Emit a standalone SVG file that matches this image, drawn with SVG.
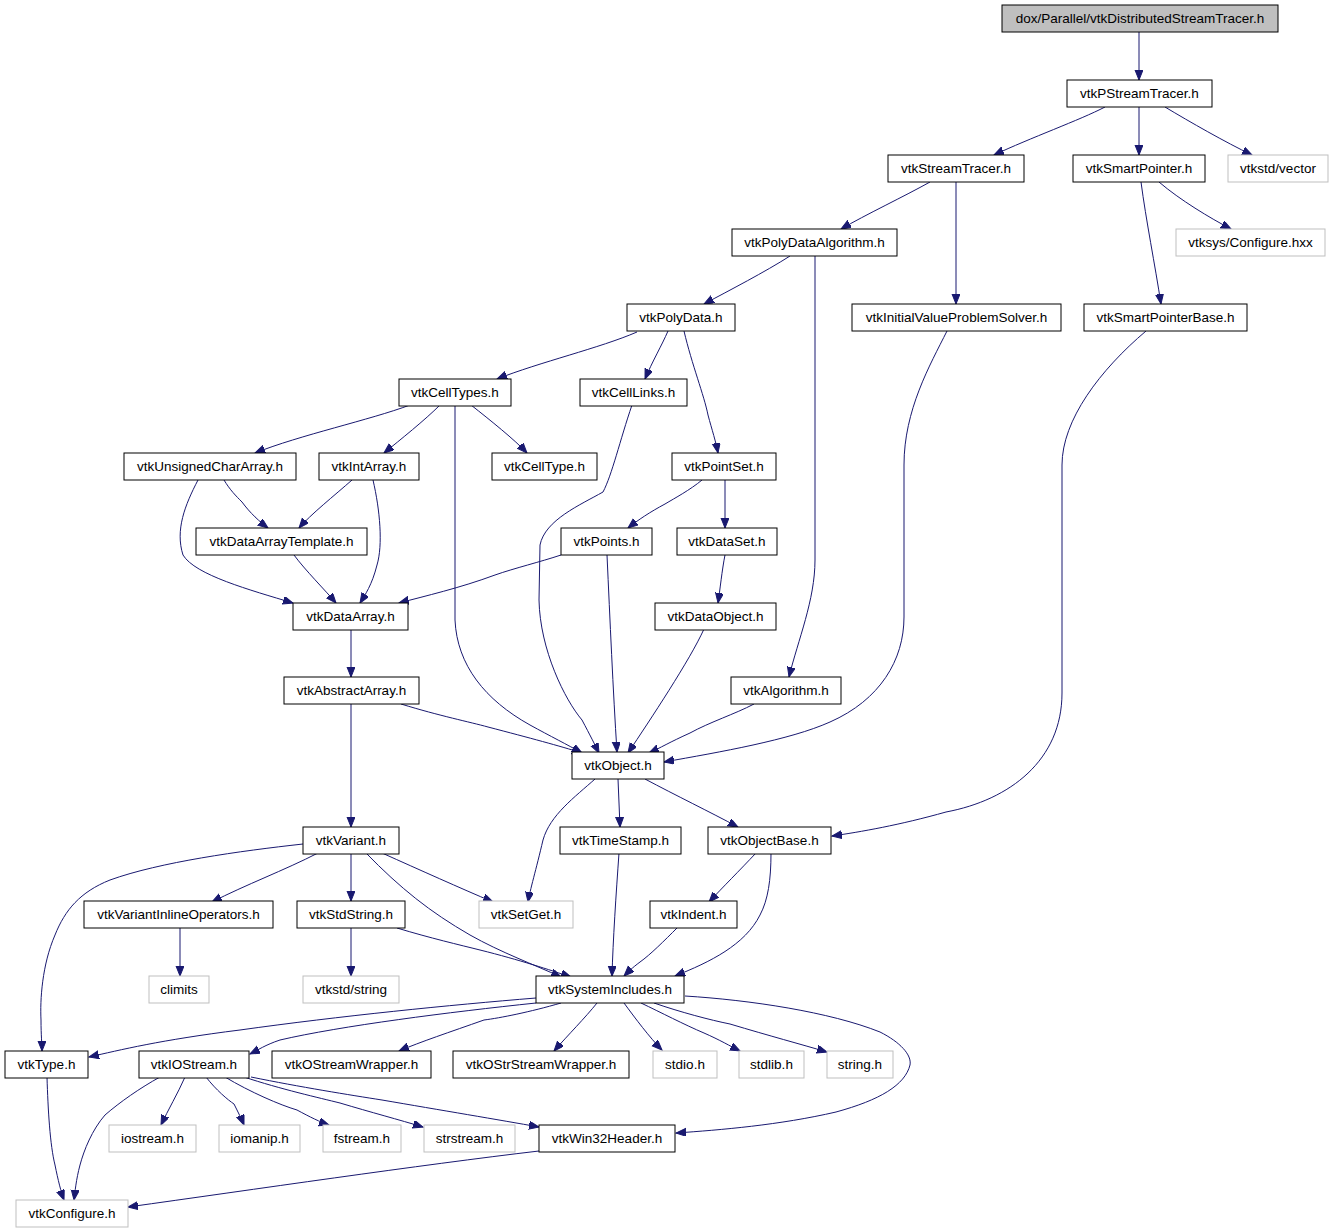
<svg xmlns="http://www.w3.org/2000/svg" width="1332" height="1232" viewBox="0 0 1332 1232">
<style>
.n rect{fill:#fff;stroke:#000;stroke-width:1}
.g rect{fill:#fff;stroke:#bfbfbf;stroke-width:1}
.root rect{fill:#bfbfbf;stroke:#000;stroke-width:1}
text{font-family:"Liberation Sans",Arial,sans-serif;font-size:13.5px;fill:#000;text-anchor:middle}
#edges path{fill:none;stroke:#191970;stroke-width:1;marker-end:url(#arr)}
</style>
<defs>
<marker id="arr" markerUnits="userSpaceOnUse" markerWidth="11" markerHeight="9" refX="10" refY="4" orient="auto">
<path d="M0,0 L10,4 L0,8 z" fill="#191970" stroke="#191970"/>
</marker>
</defs>
<rect width="1332" height="1232" fill="#fff"/>
<g id="edges">
<path d="M1139,32 L1139,80"/>
<path d="M1105,107 C1080,120 1030,138 994,155"/>
<path d="M1139,107 L1139,155"/>
<path d="M1165,107 C1190,122 1225,142 1252,155"/>
<path d="M930,182 C905,196 865,215 841,229"/>
<path d="M956,182 L956,304"/>
<path d="M1159,182 C1180,200 1210,218 1231,229"/>
<path d="M1141,182 C1146,220 1155,265 1161,304"/>
<path d="M790,256 C765,272 730,290 704,304"/>
<path d="M815,256 L815,560 C815,600 798,640 789,677"/>
<path d="M947,331 C930,365 904,410 904,465 L904,617 C904,660 880,700 830,722 C790,740 720,752 664,762"/>
<path d="M1146,331 C1100,370 1062,420 1062,465 L1062,693 C1062,760 1010,800 946,812 C900,825 860,832 832,836"/>
<path d="M637,332 C600,348 540,362 497,379"/>
<path d="M668,331 C662,345 652,362 645,379"/>
<path d="M684,331 C692,365 704,395 708,415 C712,430 716,442 718,453"/>
<path d="M410,405 C370,420 300,435 255,453"/>
<path d="M440,405 C425,420 400,440 384,453"/>
<path d="M471,405 C490,420 515,440 527,453"/>
<path d="M455,405 L455,620 C457,665 485,700 530,725 C550,736 568,745 582,753"/>
<path d="M632,405 C620,440 612,475 603,492 C580,505 545,520 540,545 L539,600 C540,650 565,700 582,720 C590,735 595,745 599,753"/>
<path d="M702,480 C690,490 675,498 665,504 C650,512 638,520 628,528"/>
<path d="M725,480 L725,528"/>
<path d="M725,555 C722,570 720,590 718,603"/>
<path d="M704,629 C690,660 650,720 628,753"/>
<path d="M754,704 C735,714 710,722 690,733 C670,742 660,748 649,753"/>
<path d="M224,480 C230,490 236,496 242,502 C250,513 260,522 268,528"/>
<path d="M198,480 C185,505 175,530 183,555 C195,575 250,590 293,603"/>
<path d="M352,480 C335,495 310,515 299,528"/>
<path d="M373,480 C380,510 383,545 377,565 C372,585 365,595 360,603"/>
<path d="M294,555 C305,570 325,590 336,603"/>
<path d="M561,555 C540,562 515,568 495,575 C460,588 425,596 399,603"/>
<path d="M607,555 C610,620 613,690 617,752"/>
<path d="M351,629 L351,677"/>
<path d="M401,704 C440,716 470,722 488,727 C530,738 560,746 582,753"/>
<path d="M351,704 L351,827"/>
<path d="M595,779 C575,797 550,815 543,840 C536,870 530,890 528,902"/>
<path d="M618,779 L620,827"/>
<path d="M645,779 C675,795 710,812 738,827"/>
<path d="M303,844 C240,851 160,862 110,880 C80,892 65,910 55,935 C42,965 40,1000 41,1020 C41,1035 42,1045 42,1051"/>
<path d="M318,853 C285,870 245,885 212,902"/>
<path d="M351,853 L351,901"/>
<path d="M382,853 C420,870 460,888 493,902"/>
<path d="M366,853 C400,888 430,912 470,935 C500,952 535,965 561,977"/>
<path d="M180,928 L180,976"/>
<path d="M351,928 L351,976"/>
<path d="M397,928 C430,938 460,945 480,950 C520,960 550,970 571,977"/>
<path d="M619,853 C616,895 613,940 612,976"/>
<path d="M756,853 C740,870 722,888 709,902"/>
<path d="M771,853 C771,880 768,900 760,915 C745,945 710,962 675,976"/>
<path d="M677,928 C665,940 650,955 640,962 C632,968 628,972 624,976"/>
<path d="M536,998 C450,1005 340,1016 240,1030 C160,1040 120,1050 89,1057"/>
<path d="M536,1003 C450,1012 340,1026 280,1040 C265,1045 258,1050 250,1054"/>
<path d="M561,1003 C530,1012 500,1018 484,1020 C450,1032 420,1042 399,1051"/>
<path d="M597,1003 C585,1018 568,1035 554,1051"/>
<path d="M624,1003 C635,1018 650,1038 662,1050"/>
<path d="M641,1003 C660,1012 685,1025 704,1033 C720,1040 730,1046 740,1051"/>
<path d="M654,1003 C680,1012 710,1020 730,1024 C770,1036 800,1044 827,1052"/>
<path d="M685,996 C750,1000 830,1012 880,1032 C900,1042 912,1055 910,1065 C905,1085 880,1100 836,1112 C780,1125 720,1130 676,1133"/>
<path d="M47,1077 C48,1110 50,1145 55,1165 C58,1180 61,1192 64,1200"/>
<path d="M185,1077 C178,1093 168,1110 161,1125"/>
<path d="M206,1077 C216,1090 228,1100 234,1104 C238,1112 242,1120 244,1125"/>
<path d="M225,1077 C250,1092 280,1105 297,1110 C310,1117 320,1122 329,1125"/>
<path d="M244,1077 C280,1089 320,1098 340,1103 C370,1112 400,1120 423,1127"/>
<path d="M251,1077 C300,1087 350,1095 382,1100 C440,1110 500,1120 539,1127"/>
<path d="M160,1077 C140,1088 120,1102 105,1115 C92,1130 84,1150 80,1165 C76,1180 75,1192 74,1200"/>
<path d="M539,1151 C420,1165 250,1190 128,1207"/>
</g>
<g id="n0" class="root"><rect x="1002" y="5" width="276" height="27"/><text x="1140" y="23">dox/Parallel/vtkDistributedStreamTracer.h</text></g>
<g id="n1" class="n"><rect x="1067" y="80" width="145" height="27"/><text x="1139.5" y="98">vtkPStreamTracer.h</text></g>
<g id="n2" class="n"><rect x="888" y="155" width="136" height="27"/><text x="956" y="173">vtkStreamTracer.h</text></g>
<g id="n3" class="n"><rect x="1073" y="155" width="132" height="27"/><text x="1139" y="173">vtkSmartPointer.h</text></g>
<g id="n4" class="g"><rect x="1228" y="155" width="100" height="27"/><text x="1278" y="173">vtkstd/vector</text></g>
<g id="n5" class="n"><rect x="732" y="229" width="165" height="27"/><text x="814.5" y="247">vtkPolyDataAlgorithm.h</text></g>
<g id="n6" class="g"><rect x="1176" y="229" width="149" height="27"/><text x="1250.5" y="247">vtksys/Configure.hxx</text></g>
<g id="n7" class="n"><rect x="627" y="304" width="108" height="27"/><text x="681" y="322">vtkPolyData.h</text></g>
<g id="n8" class="n"><rect x="852" y="304" width="209" height="27"/><text x="956.5" y="322">vtkInitialValueProblemSolver.h</text></g>
<g id="n9" class="n"><rect x="1084" y="304" width="163" height="27"/><text x="1165.5" y="322">vtkSmartPointerBase.h</text></g>
<g id="n10" class="n"><rect x="399" y="379" width="112" height="27"/><text x="455" y="397">vtkCellTypes.h</text></g>
<g id="n11" class="n"><rect x="580" y="379" width="107" height="27"/><text x="633.5" y="397">vtkCellLinks.h</text></g>
<g id="n12" class="n"><rect x="124" y="453" width="172" height="27"/><text x="210" y="471">vtkUnsignedCharArray.h</text></g>
<g id="n13" class="n"><rect x="319" y="453" width="100" height="27"/><text x="369" y="471">vtkIntArray.h</text></g>
<g id="n14" class="n"><rect x="492" y="453" width="105" height="27"/><text x="544.5" y="471">vtkCellType.h</text></g>
<g id="n15" class="n"><rect x="672" y="453" width="104" height="27"/><text x="724" y="471">vtkPointSet.h</text></g>
<g id="n16" class="n"><rect x="196" y="528" width="171" height="27"/><text x="281.5" y="546">vtkDataArrayTemplate.h</text></g>
<g id="n17" class="n"><rect x="561" y="528" width="91" height="27"/><text x="606.5" y="546">vtkPoints.h</text></g>
<g id="n18" class="n"><rect x="677" y="528" width="100" height="27"/><text x="727" y="546">vtkDataSet.h</text></g>
<g id="n19" class="n"><rect x="293" y="603" width="115" height="27"/><text x="350.5" y="621">vtkDataArray.h</text></g>
<g id="n20" class="n"><rect x="655" y="603" width="121" height="27"/><text x="715.5" y="621">vtkDataObject.h</text></g>
<g id="n21" class="n"><rect x="284" y="677" width="135" height="27"/><text x="351.5" y="695">vtkAbstractArray.h</text></g>
<g id="n22" class="n"><rect x="731" y="677" width="110" height="27"/><text x="786" y="695">vtkAlgorithm.h</text></g>
<g id="n23" class="n"><rect x="572" y="752" width="92" height="27"/><text x="618" y="770">vtkObject.h</text></g>
<g id="n24" class="n"><rect x="303" y="827" width="96" height="27"/><text x="351" y="845">vtkVariant.h</text></g>
<g id="n25" class="n"><rect x="560" y="827" width="121" height="27"/><text x="620.5" y="845">vtkTimeStamp.h</text></g>
<g id="n26" class="n"><rect x="708" y="827" width="123" height="27"/><text x="769.5" y="845">vtkObjectBase.h</text></g>
<g id="n27" class="n"><rect x="84" y="901" width="189" height="27"/><text x="178.5" y="919">vtkVariantInlineOperators.h</text></g>
<g id="n28" class="n"><rect x="297" y="901" width="108" height="27"/><text x="351" y="919">vtkStdString.h</text></g>
<g id="n29" class="g"><rect x="479" y="901" width="94" height="27"/><text x="526" y="919">vtkSetGet.h</text></g>
<g id="n30" class="n"><rect x="650" y="901" width="87" height="27"/><text x="693.5" y="919">vtkIndent.h</text></g>
<g id="n31" class="g"><rect x="149" y="976" width="60" height="27"/><text x="179" y="994">climits</text></g>
<g id="n32" class="g"><rect x="303" y="976" width="96" height="27"/><text x="351" y="994">vtkstd/string</text></g>
<g id="n33" class="n"><rect x="536" y="976" width="148" height="27"/><text x="610" y="994">vtkSystemIncludes.h</text></g>
<g id="n34" class="n"><rect x="5" y="1051" width="83" height="27"/><text x="46.5" y="1069">vtkType.h</text></g>
<g id="n35" class="n"><rect x="139" y="1051" width="110" height="27"/><text x="194" y="1069">vtkIOStream.h</text></g>
<g id="n36" class="n"><rect x="272" y="1051" width="159" height="27"/><text x="351.5" y="1069">vtkOStreamWrapper.h</text></g>
<g id="n37" class="n"><rect x="453" y="1051" width="176" height="27"/><text x="541" y="1069">vtkOStrStreamWrapper.h</text></g>
<g id="n38" class="g"><rect x="653" y="1051" width="64" height="27"/><text x="685" y="1069">stdio.h</text></g>
<g id="n39" class="g"><rect x="739" y="1051" width="65" height="27"/><text x="771.5" y="1069">stdlib.h</text></g>
<g id="n40" class="g"><rect x="827" y="1051" width="66" height="27"/><text x="860" y="1069">string.h</text></g>
<g id="n41" class="g"><rect x="109" y="1125" width="87" height="27"/><text x="152.5" y="1143">iostream.h</text></g>
<g id="n42" class="g"><rect x="219" y="1125" width="81" height="27"/><text x="259.5" y="1143">iomanip.h</text></g>
<g id="n43" class="g"><rect x="323" y="1125" width="78" height="27"/><text x="362" y="1143">fstream.h</text></g>
<g id="n44" class="g"><rect x="424" y="1125" width="91" height="27"/><text x="469.5" y="1143">strstream.h</text></g>
<g id="n45" class="n"><rect x="539" y="1125" width="136" height="27"/><text x="607" y="1143">vtkWin32Header.h</text></g>
<g id="n46" class="g"><rect x="16" y="1200" width="112" height="27"/><text x="72" y="1218">vtkConfigure.h</text></g>
</svg>
